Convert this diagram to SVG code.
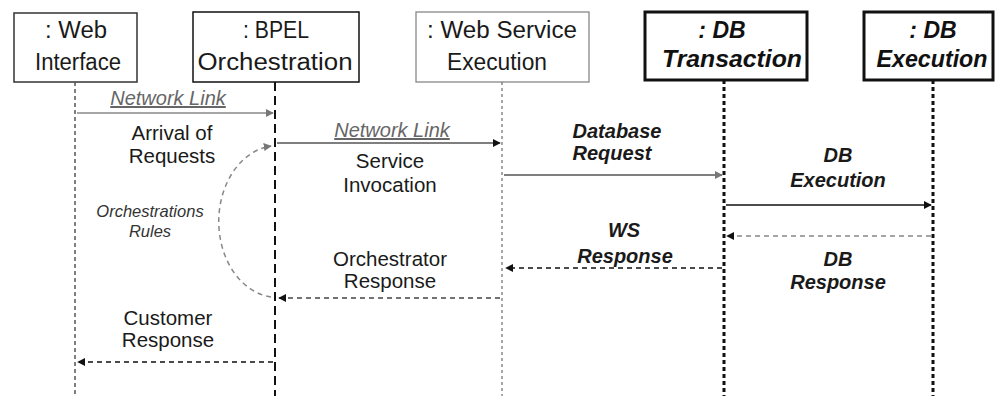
<svg xmlns="http://www.w3.org/2000/svg" width="1002" height="396" viewBox="0 0 1002 396">
<style>
.box{fill:#fff}
.t{font-family:"Liberation Sans",Arial,sans-serif;font-size:23px;fill:#1a1a1a;text-anchor:middle}
.tb{font-family:"Liberation Sans",Arial,sans-serif;font-size:23px;font-weight:bold;font-style:italic;fill:#111;text-anchor:middle}
.m{font-family:"Liberation Sans",Arial,sans-serif;font-size:20.5px;fill:#1a1a1a;text-anchor:middle}
.mb{font-family:"Liberation Sans",Arial,sans-serif;font-size:20px;font-weight:bold;font-style:italic;fill:#1a1a1a;text-anchor:middle}
.nl{font-family:"Liberation Sans",Arial,sans-serif;font-size:20px;font-style:italic;fill:#666;text-anchor:middle;text-decoration:underline}
.or{font-family:"Liberation Sans",Arial,sans-serif;font-size:16.5px;font-style:italic;fill:#333;text-anchor:middle}
</style>
<defs>
<marker id="ak" viewBox="0 0 10 10" refX="9" refY="5" markerWidth="8" markerHeight="8" markerUnits="userSpaceOnUse" orient="auto">
<path d="M0,0 L10,5 L0,10 z" fill="#111"/>
</marker>
<marker id="ag" viewBox="0 0 10 10" refX="9" refY="5" markerWidth="8" markerHeight="8" markerUnits="userSpaceOnUse" orient="auto">
<path d="M0,0 L10,5 L0,10 z" fill="#777"/>
</marker>
</defs>
<g id="node-web-interface">
<rect class="box" x="14" y="13" width="123" height="69" stroke="#333" stroke-width="1.5"/>
<text class="t" x="76" y="38" textLength="62" lengthAdjust="spacingAndGlyphs">: Web</text>
<text class="t" x="78" y="70" textLength="86" lengthAdjust="spacingAndGlyphs">Interface</text>
<line x1="75" y1="82" x2="75" y2="396" stroke="#555" stroke-width="1.5" stroke-dasharray="4 3"/>
</g>
<g id="node-bpel">
<rect class="box" x="193" y="12" width="166" height="70" stroke="#111" stroke-width="1.5"/>
<text class="t" x="276" y="38" textLength="66" lengthAdjust="spacingAndGlyphs">: BPEL</text>
<text class="t" x="275" y="70" textLength="155" lengthAdjust="spacingAndGlyphs">Orchestration</text>
<line x1="275" y1="82" x2="275" y2="396" stroke="#111" stroke-width="2" stroke-dasharray="9 5"/>
</g>
<g id="node-ws-execution">
<rect class="box" x="416" y="12" width="173" height="70" stroke="#888" stroke-width="1.3"/>
<text class="t" x="502" y="38" textLength="150" lengthAdjust="spacingAndGlyphs">: Web Service</text>
<text class="t" x="497" y="70" textLength="100" lengthAdjust="spacingAndGlyphs">Execution</text>
<line x1="502" y1="82" x2="502" y2="396" stroke="#777" stroke-width="1.3" stroke-dasharray="3 3"/>
</g>
<g id="node-db-transaction">
<rect class="box" x="645" y="12" width="162" height="68" stroke="#111" stroke-width="3"/>
<text class="tb" x="722" y="38">: DB</text>
<text class="tb" x="732" y="67" textLength="140" lengthAdjust="spacingAndGlyphs">Transaction</text>
<line x1="724" y1="80" x2="724" y2="396" stroke="#111" stroke-width="3" stroke-dasharray="4 3"/>
</g>
<g id="node-db-execution">
<rect class="box" x="864" y="12" width="129" height="68" stroke="#111" stroke-width="3"/>
<text class="tb" x="933" y="38">: DB</text>
<text class="tb" x="932" y="67" textLength="111" lengthAdjust="spacingAndGlyphs">Execution</text>
<line x1="933" y1="80" x2="933" y2="396" stroke="#111" stroke-width="3" stroke-dasharray="4 3"/>
</g>
<g id="connectors" fill="none">
<line x1="77" y1="113" x2="273" y2="113" stroke="#888" stroke-width="1.5" marker-end="url(#ag)"/>
<line x1="277" y1="143" x2="500" y2="143" stroke="#555" stroke-width="1.5" marker-end="url(#ak)"/>
<line x1="504" y1="175" x2="722" y2="175" stroke="#555" stroke-width="1.5" marker-end="url(#ag)"/>
<line x1="726" y1="205" x2="931" y2="205" stroke="#111" stroke-width="1.5" marker-end="url(#ak)"/>
<line x1="931" y1="236" x2="727" y2="236" stroke="#888" stroke-width="1.5" stroke-dasharray="5 4" marker-end="url(#ak)"/>
<line x1="722" y1="268" x2="506" y2="268" stroke="#111" stroke-width="1.5" stroke-dasharray="5 4" marker-end="url(#ak)"/>
<line x1="500" y1="298" x2="279" y2="298" stroke="#444" stroke-width="1.5" stroke-dasharray="5 4" marker-end="url(#ak)"/>
<line x1="273" y1="362" x2="78" y2="362" stroke="#111" stroke-width="1.5" stroke-dasharray="5 4" marker-end="url(#ak)"/>
<path d="M 271 297 A 59 76 0 0 1 271 146" stroke="#888" stroke-width="1.5" stroke-dasharray="5 4" marker-end="url(#ag)"/>
</g>
<g id="labels">
<text class="nl" x="168" y="105">Network Link</text>
<text class="m" x="172" y="140">Arrival of</text>
<text class="m" x="172" y="163">Requests</text>
<text class="nl" x="392" y="137">Network Link</text>
<text class="m" x="390" y="168">Service</text>
<text class="m" x="390" y="192">Invocation</text>
<text class="mb" x="617" y="138">Database</text>
<text class="mb" x="612" y="160">Request</text>
<text class="mb" x="838" y="162">DB</text>
<text class="mb" x="838" y="187">Execution</text>
<text class="mb" x="624" y="237">WS</text>
<text class="mb" x="625" y="263">Response</text>
<text class="mb" x="838" y="266">DB</text>
<text class="mb" x="838" y="289">Response</text>
<text class="m" x="390" y="266">Orchestrator</text>
<text class="m" x="390" y="288">Response</text>
<text class="or" x="150" y="217">Orchestrations</text>
<text class="or" x="150" y="237">Rules</text>
<text class="m" x="168" y="325">Customer</text>
<text class="m" x="168" y="347">Response</text>
</g>
</svg>
